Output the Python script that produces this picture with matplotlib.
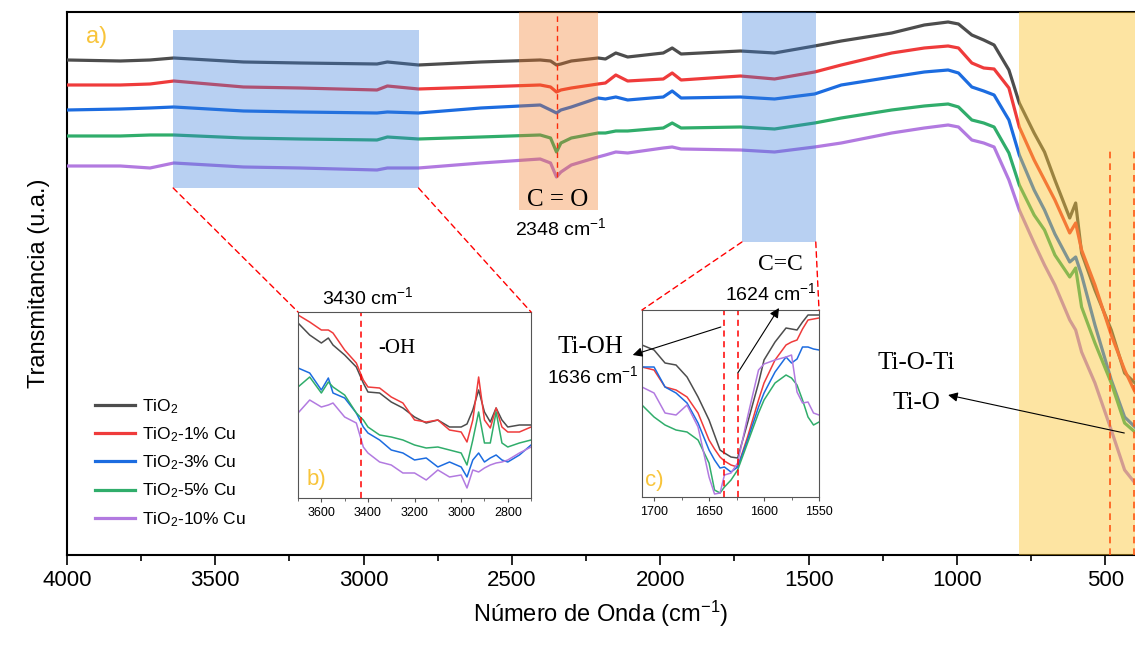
import numpy as np
import matplotlib
matplotlib.use('Agg')
import matplotlib.pyplot as plt
from matplotlib.patches import ConnectionPatch

plt.rcParams['font.family'] = ['Liberation Sans', 'DejaVu Sans']
plt.rcParams['mathtext.fontset'] = 'custom'
plt.rcParams['mathtext.rm'] = 'Liberation Sans'
plt.rcParams['mathtext.it'] = 'Liberation Sans:italic'

# FTIR spectra, main panel (wavenumber in cm-1, transmittance in a.u.)
wn = [4000, 3820, 3720, 3640, 3405, 3215, 2955, 2920, 2815, 2605, 2405, 2370,
      2350, 2335, 2300, 2210, 2185, 2150, 2110, 1990, 1960, 1930, 1730, 1615,
      1480, 1390, 1220, 1110, 1030, 995, 950, 910, 875, 825, 790, 740, 705,
      670, 620, 600, 580, 535, 480, 435, 400]
t_tio2 = [495, 494, 495, 497, 493, 492, 491, 493, 490, 493, 495, 494, 490, 491,
          494, 497, 496, 502, 498, 502, 507, 501, 504, 502, 509, 514, 522, 530,
          533, 531, 520, 515, 510, 485, 452, 422, 403, 375, 337, 352, 302, 265,
          225, 182, 172]
t_cu1 = [470, 470, 471, 474, 468, 467, 465, 469, 466, 468, 470, 468, 463, 465,
         467, 471, 472, 480, 474, 476, 482, 475, 479, 476, 483, 490, 502, 507,
         509, 507, 492, 487, 486, 467, 428, 395, 375, 355, 322, 332, 305, 270,
         220, 185, 163]
t_cu3 = [445, 446, 447, 448, 444, 443, 442, 443, 442, 447, 450, 445, 442, 445,
         448, 457, 456, 458, 455, 458, 464, 457, 458, 456, 461, 470, 478, 483,
         485, 482, 468, 464, 460, 435, 400, 365, 345, 321, 293, 298, 280, 230,
         175, 138, 128]
t_cu5 = [419, 419, 420, 420, 417, 416, 415, 418, 416, 418, 420, 417, 403, 412,
         417, 422, 422, 424, 424, 427, 432, 427, 428, 426, 432, 437, 445, 449,
         451, 448, 435, 432, 428, 402, 370, 340, 325, 300, 278, 287, 248, 212,
         172, 132, 123]
t_cu10 = [389, 389, 387, 392, 388, 387, 385, 387, 387, 392, 396, 392, 378, 383,
          390, 398, 400, 403, 402, 407, 408, 406, 405, 403, 408, 412, 422, 427,
          430, 428, 415, 412, 408, 375, 345, 312, 290, 270, 235, 225, 203, 172,
          125, 85, 72]

# inset b: O-H region
wn_b = [3700, 3650, 3600, 3570, 3550, 3500, 3450, 3420, 3400, 3350, 3300, 3250,
        3200, 3150, 3100, 3050, 3000, 2975, 2950, 2925, 2900, 2875, 2850, 2825,
        2800, 2750, 2700]
b_tio2 = [175, 163, 155, 160, 153, 143, 131, 115, 106, 105, 96, 90, 81, 75, 78,
          71, 71, 74, 88, 108, 86, 76, 90, 78, 71, 73, 73]
b_cu1 = [183, 176, 168, 168, 165, 148, 135, 118, 111, 110, 101, 95, 78, 76, 78,
         68, 66, 56, 78, 121, 78, 70, 90, 71, 66, 66, 71]
b_cu3 = [130, 125, 108, 120, 105, 100, 85, 71, 65, 58, 48, 45, 38, 40, 31, 36,
         31, 21, 38, 45, 36, 40, 43, 38, 36, 43, 53]
b_cu5 = [111, 121, 105, 116, 111, 103, 85, 78, 71, 63, 61, 58, 53, 50, 51, 48,
         45, 33, 58, 86, 55, 55, 86, 55, 51, 55, 58]
b_cu10 = [85, 98, 91, 93, 95, 81, 75, 51, 45, 36, 33, 25, 25, 18, 28, 21, 23,
          10, 28, 26, 30, 33, 35, 36, 38, 45, 51]

# inset c: C=C / Ti-OH region
wn_c = [1711, 1700, 1690, 1680, 1670, 1660, 1650, 1645, 1640, 1636, 1630, 1624,
        1615, 1605, 1600, 1590, 1580, 1575, 1570, 1565, 1560, 1555, 1550]
c_tio2 = [152, 147, 134, 132, 120, 100, 77, 62, 47, 44, 40, 39, 74, 114, 137,
          155, 169, 168, 167, 175, 182, 182, 182]
c_cu1 = [130, 127, 110, 107, 100, 84, 57, 48, 40, 36, 32, 30, 60, 97, 114, 137,
         152, 155, 157, 168, 177, 178, 179]
c_cu3 = [130, 130, 110, 104, 94, 74, 47, 37, 29, 30, 25, 30, 57, 90, 104, 125,
         140, 134, 138, 150, 150, 148, 147]
c_cu5 = [92, 80, 72, 67, 65, 57, 34, 7, 4, 10, 17, 27, 54, 84, 97, 114, 122,
         119, 112, 97, 80, 72, 75]
c_cu10 = [110, 104, 84, 82, 92, 70, 20, 3, 4, 22, 24, 34, 80, 127, 133, 137,
          140, 142, 105, 94, 95, 84, 82]

labels = [r'TiO$_\mathregular{2}$', r'TiO$_\mathregular{2}$-1% Cu',
          r'TiO$_\mathregular{2}$-3% Cu', r'TiO$_\mathregular{2}$-5% Cu',
          r'TiO$_\mathregular{2}$-10% Cu']
colors = ['#4d4d4d', '#ef3b3b', '#1c6ce0', '#30ad6b', '#b27ae0']

gold = '#f8c43a'
cm1 = r' cm$^\mathregular{-1}$'
serif = ['Liberation Serif', 'DejaVu Serif']

fig = plt.figure(figsize=(11.35, 6.48), dpi=100)
ax = fig.add_axes([0.059, 0.1435, 0.941, 0.838])

main = [t_tio2, t_cu1, t_cu3, t_cu5, t_cu10]
for y, c, lab in zip(main, colors, labels):
    ax.plot(wn, y, color=c, lw=2.3, label=lab, zorder=3)

ax.set_xlim(4000, 400)
ax.set_ylim(0, 543)
ax.set_yticks([])
ax.set_xticks([4000, 3500, 3000, 2500, 2000, 1500, 1000, 500])
ax.set_xticks(np.arange(3750, 400, -500), minor=True)
ax.tick_params(axis='x', which='major', labelsize=16, length=7, width=1.2)
ax.tick_params(axis='x', which='minor', length=4, width=1.2)
ax.spines['right'].set_visible(False)
for s in ['left', 'bottom', 'top']:
    ax.spines[s].set_linewidth(1.5)
ax.set_xlabel(r'Número de Onda (cm$^\mathregular{-1}$)', fontsize=17, labelpad=6)
ax.set_ylabel('Transmitancia (u.a.)', fontsize=17, labelpad=12)

# highlighted bands, drawn over the spectra
ax.fill_between([3642, 2815], 367, 525, color='#357bdc', alpha=0.35, lw=0, zorder=5)
ax.fill_between([1725, 1476], 313, 543, color='#357bdc', alpha=0.35, lw=0, zorder=5)
ax.fill_between([2475, 2211], 345, 543, color='#f3781d', alpha=0.35, lw=0, zorder=5)
ax.axvspan(790, 400, color='#fbc531', alpha=0.45, lw=0, zorder=5)

ax.plot([2348, 2348], [378, 543], color='red', lw=1, ls=(0, (4, 3)), zorder=4)
ax.plot([483, 483], [0, 405], color='red', lw=1.2, ls=(0, (4, 3)), zorder=4)
ax.plot([402, 402], [0, 405], color='red', lw=1.2, ls=(0, (4, 3)), zorder=4)

ax.text(3900, 518, 'a)', color=gold, fontsize=17, ha='center', va='center')
ax.text(2346, 355, 'C = O', family=serif, fontsize=18, ha='center', va='center', zorder=6)
ax.text(2336, 327, '2348' + cm1, fontsize=14, ha='center', va='center')
ax.text(2984, 258, '3430' + cm1, fontsize=14, ha='center', va='center')
ax.text(1594, 290, 'C=C', family=serif, fontsize=17, ha='center', va='center')
ax.text(1627, 262, '1624' + cm1, fontsize=14, ha='center', va='center')
ax.text(2235, 208, 'Ti-OH', family=serif, fontsize=18, ha='center', va='center')
ax.text(2228, 179, '1636' + cm1, fontsize=14, ha='center', va='center')
ax.text(1138, 192, 'Ti-O-Ti', family=serif, fontsize=18, ha='center', va='center')
ax.text(1138, 152, 'Ti-O', family=serif, fontsize=18, ha='center', va='center')
ax.annotate('', xy=(1030, 160), xytext=(436, 122),
            arrowprops=dict(arrowstyle='-|>', color='black', lw=0.8,
                            mutation_scale=14, shrinkA=0, shrinkB=0), zorder=6)

ax.legend(loc='lower left', bbox_to_anchor=(0.012, 0.02), frameon=False,
          fontsize=12.5, handlelength=2.3, handletextpad=0.4, labelspacing=0.55)

# inset b
axb = fig.add_axes([0.2626, 0.2315, 0.2053, 0.287])
for y, c in zip([b_tio2, b_cu1, b_cu3, b_cu5, b_cu10], colors):
    axb.plot(wn_b, y, color=c, lw=1.1)
axb.set_xlim(3700, 2700)
axb.set_ylim(0, 186)
axb.set_yticks([])
axb.set_xticks([3600, 3400, 3200, 3000, 2800])
axb.set_xticks(np.arange(3700, 2650, -100), minor=True)
axb.tick_params(axis='x', which='both', labelsize=9, length=3, color='#555555')
axb.tick_params(axis='x', which='minor', length=2)
for s in axb.spines.values():
    s.set_color('#555555')
axb.axvline(3430, color='red', lw=1.1, ls=(0, (4, 3)))
axb.text(3275, 150, '-OH', family=serif, fontsize=15, ha='center', va='center')
axb.text(3620, 18, 'b)', color=gold, fontsize=16, ha='center', va='center')

# inset c
axc = fig.add_axes([0.5656, 0.233, 0.156, 0.2886])
for y, c in zip([c_tio2, c_cu1, c_cu3, c_cu5, c_cu10], colors):
    axc.plot(wn_c, y, color=c, lw=1.1)
axc.set_xlim(1711, 1550)
axc.set_ylim(0, 187)
axc.set_yticks([])
axc.set_xticks([1700, 1650, 1600, 1550])
axc.set_xticks([1675, 1625, 1575], minor=True)
axc.tick_params(axis='x', which='both', labelsize=9, length=3, color='#555555')
axc.tick_params(axis='x', which='minor', length=2)
for s in axc.spines.values():
    s.set_color('#555555')
axc.axvline(1636, color='red', lw=1.1, ls=(0, (4, 3)))
axc.axvline(1624, color='red', lw=1.1, ls=(0, (4, 3)))
axc.text(1700, 17, 'c)', color=gold, fontsize=16, ha='center', va='center')
axc.annotate('', xy=(2093, 200), xycoords=ax.transData,
             xytext=(1796, 228), textcoords=ax.transData,
             arrowprops=dict(arrowstyle='-|>', color='black', lw=0.8,
                             mutation_scale=14, shrinkA=0, shrinkB=0),
             annotation_clip=False)
axc.annotate('', xy=(1600, 247), xycoords=ax.transData,
             xytext=(1739, 182), textcoords=ax.transData,
             arrowprops=dict(arrowstyle='-|>', color='black', lw=0.8,
                             mutation_scale=14, shrinkA=0, shrinkB=0),
             annotation_clip=False)

# zoom connectors
for xa, xb, yb, inset in [(3642, 0, 367, axb), (2815, 1, 367, axb),
                          (1725, 0, 313, axc), (1476, 1, 313, axc)]:
    con = ConnectionPatch(xyA=(xa, yb), coordsA=ax.transData,
                          xyB=(xb, 1), coordsB=inset.transAxes,
                          color='red', lw=1, ls=(0, (4, 3)))
    fig.add_artist(con)

fig.savefig('out.png', dpi=100)
